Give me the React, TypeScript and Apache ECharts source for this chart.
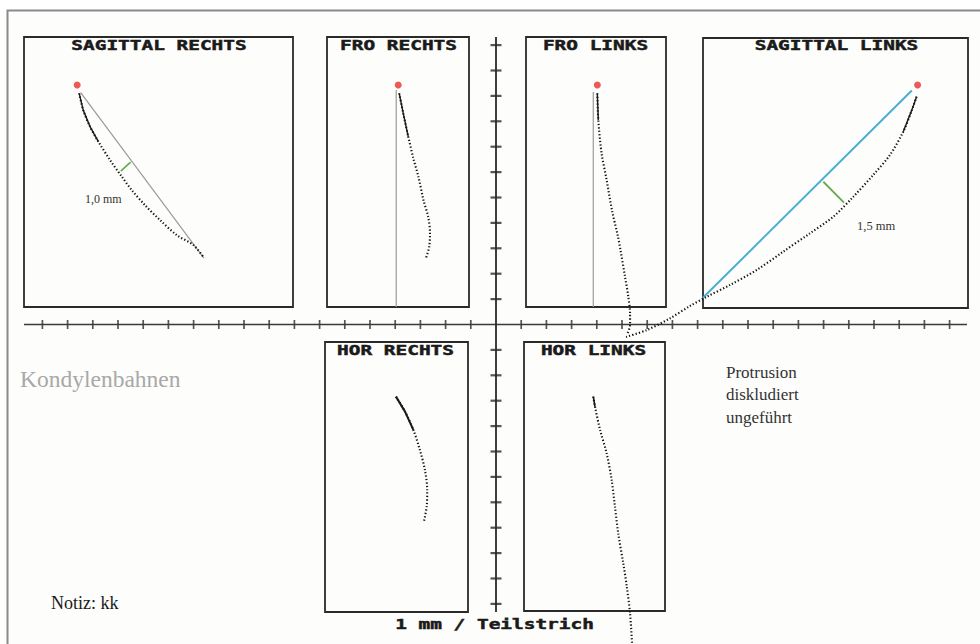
import React, { useEffect, useRef } from "react";
import * as echarts from "echarts";

// ---- data (millimetres, origin at the central cross) ----
const hTicks = [-18,-17,-16,-15,-14,-13,-12,-11,-10,-9,-8,-7,-6,-5,-4,-3,-2,-1,1,2,3,4,5,6,7,8,9,10,11,12,13,14,15,16,17,18];
const vTicks = [-11,-10,-9,-8,-7,-6,-5,-4,-3,-2,-1,1,2,3,4,5,6,7,8,9,10,11];
const hAxisEnds = [[-18.73, 0], [18.69, 0]];
const vAxisEnds = [[0, 11.32], [0, -11.32]];

const sagRechtsTrace = [[-16.54,9.10],[-16.38,8.44],[-16.11,7.79],[-15.78,7.20],[-15.32,6.48],[-14.85,5.82],[-14.46,5.30],[-13.93,4.70],[-13.33,4.11],[-12.67,3.52],[-12.01,3.13],[-11.62,2.67]];
const sagRechtsChord = [[-16.48,9.13],[-11.59,2.61]];
const sagRechtsGap = [[-14.89,6.04],[-14.50,6.39]];

const froRechtsTrace = [[-3.84,9.10],[-3.68,8.31],[-3.48,7.39],[-3.28,6.54],[-3.08,5.82],[-2.88,4.90],[-2.69,4.24],[-2.62,3.59],[-2.65,3.06],[-2.78,2.61]];
const froRechtsRef = [[-3.96,9.23],[-3.96,0.69]];

const froLinksTrace = [[4.02,9.10],[4.06,8.05],[4.19,6.74],[4.39,5.69],[4.60,4.51],[4.84,3.46],[4.94,2.93],[5.12,1.88],[5.25,1.09],[5.32,0.44],[5.32,-0.02],[5.19,-0.41]];
const froLinksRef = [[3.86,9.15],[3.86,0.69]];

const sagLinksTrace = [[16.69,8.97],[16.50,8.44],[16.16,7.59],[15.63,6.67],[14.97,5.89],[14.18,5.03],[13.38,4.24],[12.46,3.59],[11.40,2.87],[10.35,2.15],[9.29,1.56],[8.36,1.09],[7.70,0.73],[6.90,0.24],[5.98,-0.22],[5.16,-0.49]];
const sagLinksChord = [[16.50,9.21],[8.20,1.04]];
const sagLinksGap = [[12.99,5.62],[13.81,4.80]];

const horRechtsTrace = [[-3.97,-2.84],[-3.61,-3.43],[-3.28,-4.15],[-3.02,-4.94],[-2.82,-5.73],[-2.73,-6.52],[-2.75,-7.17],[-2.86,-7.76]];
const horLinksTrace = [[3.86,-2.84],[3.93,-3.24],[4.13,-4.15],[4.39,-5.07],[4.59,-6.12],[4.72,-7.17],[4.85,-8.22],[5.05,-9.40],[5.19,-10.32],[5.32,-11.37],[5.40,-12.58]];

const startPoints = [[-16.62,9.43],[-3.88,9.43],[4.02,9.43],[16.73,9.43]];

const panelTitles = ["SAGITTAL RECHTS", "FRO RECHTS", "FRO LINKS", "SAGITTAL LINKS", "HOR RECHTS", "HOR LINKS"];
const scaleNote = "1 mm / Teilstrich";
const gapLabels = ["1,0 mm", "1,5 mm"];
const sideNotes = ["Protrusion", "diskludiert", "ungeführt"];

// ---- layout ----
const W = 980, H = 644;
const CX = 496, CY = 324.5, SX = 25.2, SY = 25.4;

const mono = "bold 14.5px 'DejaVu Sans Mono', monospace";
const serif = "'Liberation Serif', 'Times New Roman', serif";

function dotted(data: number[][], width = 2.1) {
  return {
    type: "line", data, symbol: "none", smooth: 0.3, silent: true,
    lineStyle: { color: "#151515", width, type: [1.3, 2.1] },
  };
}
function solid(data: number[][], color: string, width: number) {
  return {
    type: "line", data, symbol: "none", silent: true,
    lineStyle: { color, width },
  };
}

export default function App() {
  const ref = useRef<HTMLDivElement>(null);
  useEffect(() => {
    if (!ref.current) return;
    const chart = echarts.init(ref.current, undefined, { renderer: "svg" });

    const boxes = [
      [24, 37, 269, 270],
      [327, 37, 142, 270],
      [526, 37, 140, 270],
      [703, 38, 265, 270],
      [325, 342, 143, 270],
      [524, 342, 141, 269],
    ];
    const titlePos = [[159, 45], [398.5, 45], [595.5, 45], [836.5, 45], [395.5, 349.5], [593.5, 349.5]];

    const graphic: any[] = [
      { type: "rect", shape: { x: 7.5, y: 10.5, width: 1000, height: 700 }, style: { fill: "#fdfdfb", stroke: "#8a8a8a", lineWidth: 2 }, z: -10, silent: true },
    ];
    boxes.forEach((b) => {
      graphic.push({ type: "rect", shape: { x: b[0], y: b[1], width: b[2], height: b[3] }, style: { fill: "none", stroke: "#2a2a2a", lineWidth: 1.8 }, silent: true });
    });
    const titleStyle = { font: mono, fill: "#1a1a1a", stroke: "#1a1a1a", lineWidth: 0.5, textAlign: "center", textVerticalAlign: "middle" };
    panelTitles.forEach((t, i) => {
      graphic.push({ type: "text", x: titlePos[i][0], y: titlePos[i][1], scaleX: 1.34, style: { ...titleStyle, text: t }, silent: true });
    });
    graphic.push({ type: "text", x: 494.5, y: 624, scaleX: 1.34, style: { ...titleStyle, text: scaleNote }, silent: true });
    graphic.push({ type: "text", x: 85, y: 199, style: { text: gapLabels[0], font: `12px ${serif}`, fill: "#333", textAlign: "left", textVerticalAlign: "middle" }, silent: true });
    graphic.push({ type: "text", x: 857, y: 226, style: { text: gapLabels[1], font: `12.5px ${serif}`, fill: "#333", textAlign: "left", textVerticalAlign: "middle" }, silent: true });
    graphic.push({ type: "text", x: 20, y: 379, style: { text: "Kondylenbahnen", font: `23.5px ${serif}`, fill: "#a8a8a8", textAlign: "left", textVerticalAlign: "middle" }, silent: true });
    graphic.push({ type: "text", x: 51, y: 603, style: { text: "Notiz: kk", font: `18px ${serif}`, fill: "#1a1a1a", textAlign: "left", textVerticalAlign: "middle" }, silent: true });
    sideNotes.forEach((s, i) => {
      graphic.push({ type: "text", x: 726, y: 372 + i * 22.5, style: { text: s, font: `17px ${serif}`, fill: "#333", textAlign: "left", textVerticalAlign: "middle" }, silent: true });
    });

    const option: any = {
      animation: false,
      backgroundColor: "#ffffff",
      grid: { left: 0, top: 0, width: W, height: H, containLabel: false },
      xAxis: { type: "value", min: -CX / SX, max: (W - CX) / SX, show: false },
      yAxis: { type: "value", min: -(H - CY) / SY, max: CY / SY, show: false },
      graphic,
      series: [
        solid(hAxisEnds, "#3a3a3a", 1.5),
        solid(vAxisEnds, "#2a2a2a", 1.8),
        { type: "scatter", data: hTicks.map((k) => [k, 0]), symbol: "rect", symbolSize: [1.7, 9], itemStyle: { color: "#2a2a2a" }, silent: true },
        { type: "scatter", data: vTicks.map((k) => [0, k]), symbol: "rect", symbolSize: [11, 2.2], itemStyle: { color: "#2a2a2a" }, silent: true },
        solid(sagRechtsChord, "#9a9a9a", 1.2),
        solid(froRechtsRef, "#9a9a9a", 1.2),
        solid(froLinksRef, "#9a9a9a", 1.2),
        solid(sagLinksChord, "#4aaed3", 2),
        solid(sagRechtsGap, "#5fae45", 1.6),
        solid(sagLinksGap, "#6aa84f", 1.8),
        dotted(sagRechtsTrace),
        dotted(froRechtsTrace),
        dotted(froLinksTrace),
        dotted(sagLinksTrace),
        dotted(horRechtsTrace),
        dotted(horLinksTrace),
        solid(sagRechtsTrace.slice(0, 4), "#1a1a1a", 1.4),
        solid(froRechtsTrace.slice(0, 3), "#1a1a1a", 1.4),
        solid(froLinksTrace.slice(0, 2), "#1a1a1a", 1.4),
        solid(sagLinksTrace.slice(0, 3), "#1a1a1a", 1.4),
        solid(horRechtsTrace.slice(0, 3), "#1a1a1a", 2),
        solid(horLinksTrace.slice(0, 2), "#1a1a1a", 1.6),
        { type: "scatter", data: startPoints, symbol: "circle", symbolSize: 7, itemStyle: { color: "#e8302a" }, silent: true },
      ],
    };
    chart.setOption(option);
    return () => chart.dispose();
  }, []);
  return <div ref={ref} style={{ position: "absolute", left: 0, top: 0, width: W, height: H }} />;
}
